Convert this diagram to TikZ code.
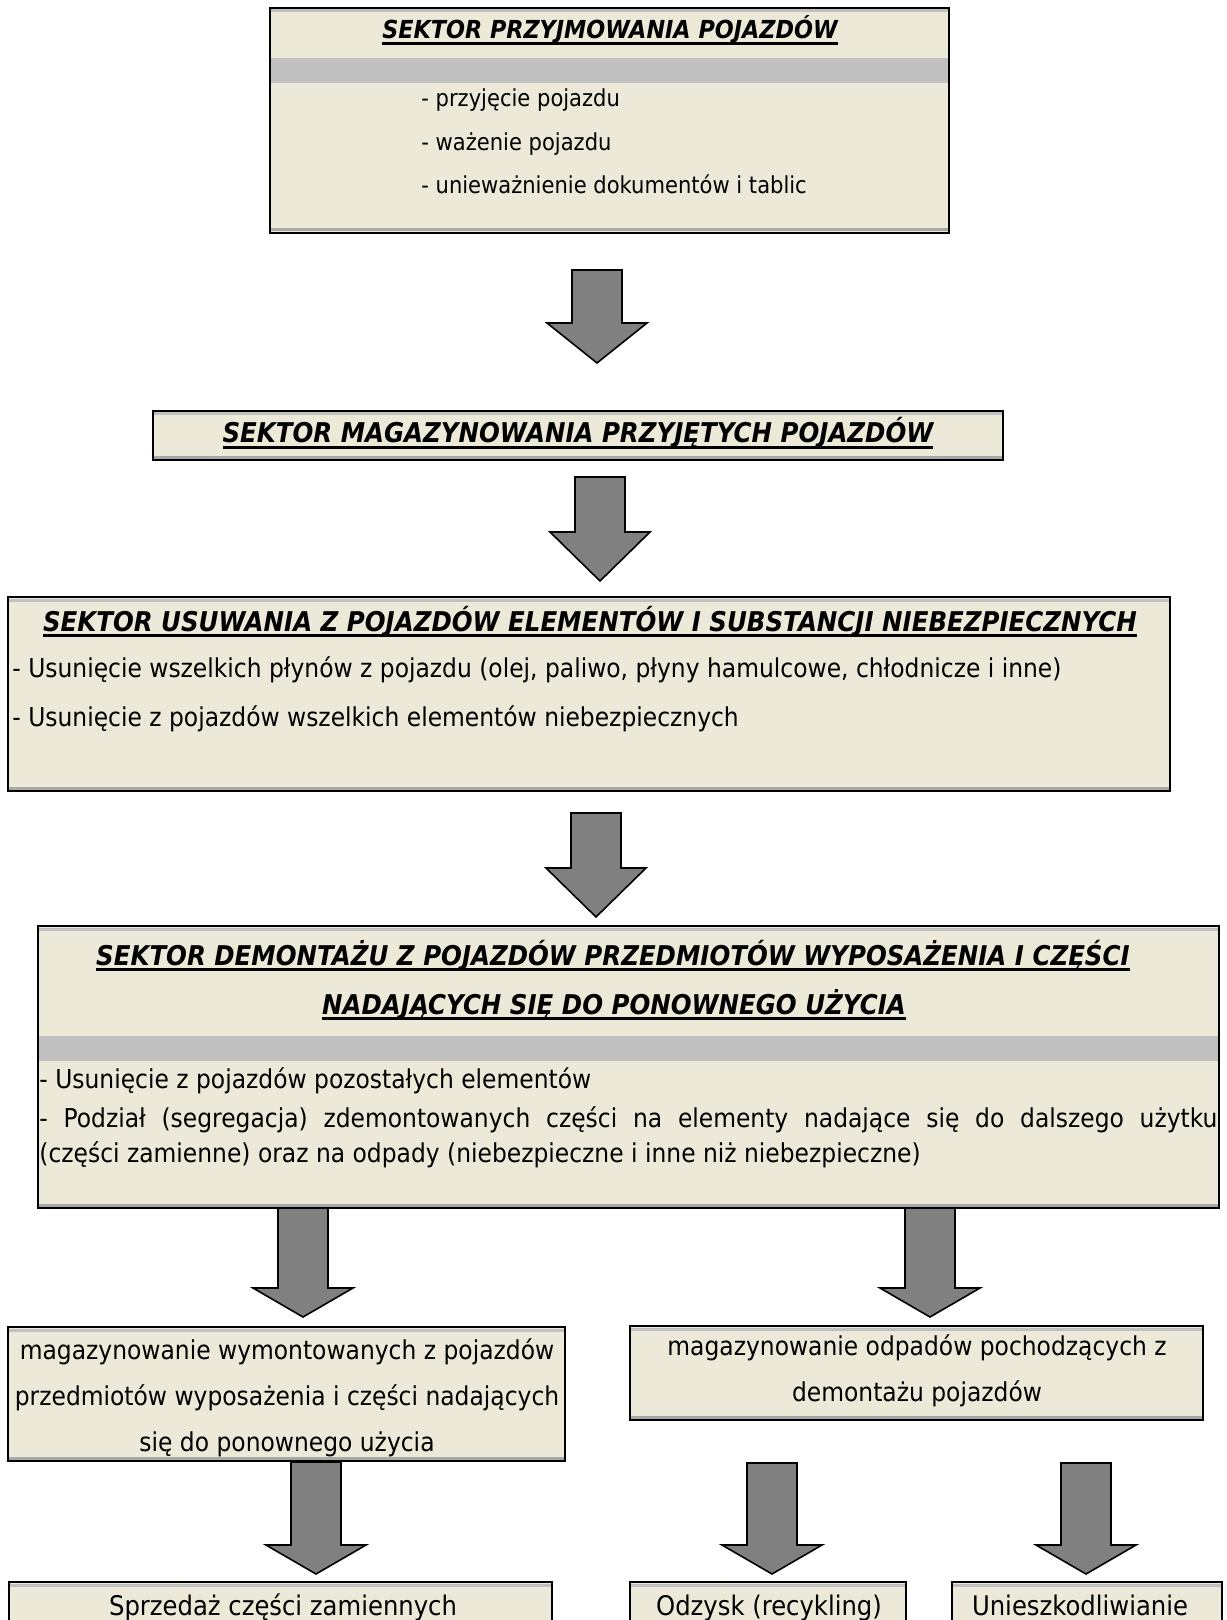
\documentclass[tikz,border=0pt]{standalone}
\usepackage{fontspec}
\setmainfont[FakeStretch=0.9]{DejaVu Sans}
\newsavebox{\podkrbox}
\newcommand{\podkr}[1]{\sbox{\podkrbox}{#1}\rlap{\rule[-2.8pt]{\wd\podkrbox}{1.3pt}}\usebox{\podkrbox}}
\definecolor{tlo}{HTML}{ECE9D8}
\definecolor{pasekszary}{HTML}{C0C0C0}
\definecolor{cien}{HTML}{A8A8A8}
\definecolor{strzalkaszara}{HTML}{808080}
\tikzset{
	boks/.style={draw=black,line width=1pt},
	pasek/.style={draw=cien,line width=1.5pt},
	strzalka/.style={fill=strzalkaszara,draw=black,line width=0.8pt,line join=miter},
	naglowek/.style={anchor=base,inner sep=0pt,font=\fontsize{13.6}{16}\selectfont\bfseries\itshape},
	tekst/.style={anchor=base,inner sep=0pt,font=\fontsize{13}{16}\selectfont},
	punkt/.style={anchor=base west,inner sep=0pt,font=\fontsize{11.7}{14}\selectfont}
}
% ramka z cieniowaniem: x1,y1,x2,y2
\newcommand{\ramka}[4]{%
	\fill[tlo] (#1,#2) rectangle (#3,#4);
	\draw[pasek,draw=pasekszary] (#1,#2+3) -- (#3,#2+3);
	\draw[pasek] (#1,#4-3) -- (#3,#4-3);
	\path[boks] (#1,#2) rectangle (#3,#4);}
\begin{document}
\begin{tikzpicture}[x=0.5pt,y=-0.5pt,line cap=butt]
	\useasboundingbox[fill=white] (0,0) rectangle (1226,1620);
	
	% sektor przyjmowania
	\ramka{270}{8}{949}{233}
	\fill[pasekszary] (271,58) rectangle (948,83);
	\node[naglowek,font=\fontsize{12.4}{15}\selectfont\bfseries\itshape] (przyj) at (610,39) {\podkr{SEKTOR PRZYJMOWANIA POJAZDÓW}};
	\node[punkt] (przyj1) at (421,107) {- przyjęcie pojazdu};
	\node[punkt] (przyj2) at (421,151) {- ważenie pojazdu};
	\node[punkt] (przyj3) at (421,194) {- unieważnienie dokumentów i tablic};
	
	% sektor magazynowania
	\ramka{153}{411}{1003}{460}
	\node[naglowek] (mag) at (578,443) {\podkr{SEKTOR MAGAZYNOWANIA PRZYJĘTYCH POJAZDÓW}};
	
	% sektor usuwania
	\ramka{8}{597}{1170}{791}
	\node[naglowek] (usuw) at (590,631) {\podkr{SEKTOR USUWANIA Z POJAZDÓW ELEMENTÓW I SUBSTANCJI NIEBEZPIECZNYCH}};
	\node[tekst,anchor=base west] (usuw1) at (12,677) {- Usunięcie wszelkich płynów z pojazdu (olej, paliwo, płyny hamulcowe, chłodnicze i inne)};
	\node[tekst,anchor=base west] (usuw2) at (12,726) {- Usunięcie z pojazdów wszelkich elementów niebezpiecznych};
	
	% sektor demontazu
	\ramka{38}{926}{1219}{1208}
	\fill[pasekszary] (39,1036) rectangle (1218,1061);
	\node[naglowek] (dem) at (613,965) {\podkr{SEKTOR DEMONTAŻU Z POJAZDÓW PRZEDMIOTÓW WYPOSAŻENIA I CZĘŚCI}};
	\node[naglowek] (dema) at (614,1014) {\podkr{NADAJĄCYCH SIĘ DO PONOWNEGO UŻYCIA}};
	\node[tekst,anchor=base west] (dem1) at (39,1088) {- Usunięcie z pojazdów pozostałych elementów};
	\node[tekst,anchor=base west] (dem2) at (39,1127) {\makebox[589pt][s]{- Podział (segregacja) zdemontowanych części na elementy nadające się do dalszego użytku}};
	\node[tekst,anchor=base west] (dem3) at (39,1162) {(części zamienne) oraz na odpady (niebezpieczne i inne niż niebezpieczne)};
	
	% magazynowanie czesci i odpadow
	\ramka{8}{1327}{565}{1461}
	\node[tekst] (czesci1) at (287,1359) {magazynowanie wymontowanych z pojazdów};
	\node[tekst] (czesci2) at (287,1405) {przedmiotów wyposażenia i części nadających};
	\node[tekst] (czesci3) at (287,1451) {się do ponownego użycia};
	\ramka{630}{1326}{1203}{1420}
	\node[tekst] (odpady1) at (917,1355) {magazynowanie odpadów pochodzących z};
	\node[tekst] (odpady2) at (917,1401) {demontażu pojazdów};
	
	% ostatni rzad
	\ramka{9}{1582}{552}{1660}
	\node[tekst,font=\fontsize{13.5}{16}\selectfont] (sprzedaz) at (283,1615) {Sprzedaż części zamiennych};
	\ramka{630}{1582}{906}{1660}
	\node[tekst,font=\fontsize{13.5}{16}\selectfont] (odzysk) at (769,1615) {Odzysk (recykling)};
	\ramka{952}{1582}{1222}{1660}
	\node[tekst,font=\fontsize{13.5}{16}\selectfont] (unieszk) at (1080,1615) {Unieszkodliwianie};
	
	% strzalki
	\foreach \x/\a/\b/\c in {597/270/323/363,600/477/532/581,596/813/868/917,303/1208/1288/1317,930/1208/1288/1317,316/1462/1545/1574,772/1463/1545/1574,1086/1463/1545/1574}
	\path[strzalka] (\x-25,\a) -- (\x+25,\a) -- (\x+25,\b) -- (\x+50,\b) -- (\x,\c) -- (\x-50,\b) -- (\x-25,\b) -- cycle;
\end{tikzpicture}
\end{document}
